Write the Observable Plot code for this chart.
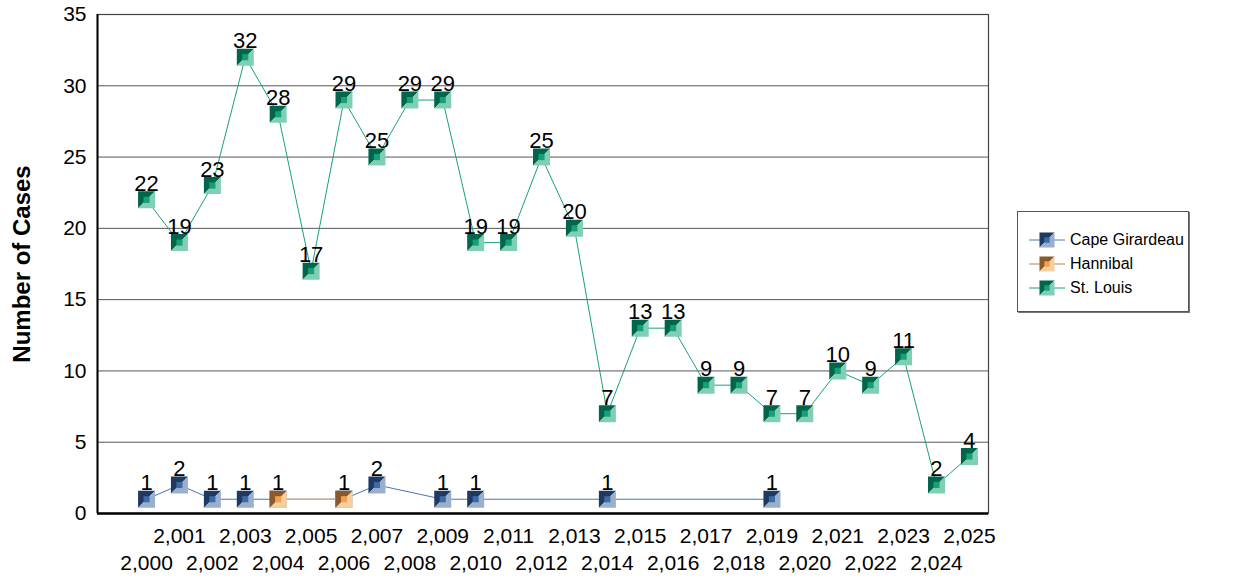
<!DOCTYPE html>
<html><head><meta charset="utf-8">
<script src="https://cdn.jsdelivr.net/npm/d3@7"></script>
<script src="https://cdn.jsdelivr.net/npm/@observablehq/plot@0.6"></script>
<style>
body{margin:0;background:#fff;font-family:"Liberation Sans",Arial,sans-serif;}
#wrap{position:relative;width:1241px;height:579px;}
#legend{position:absolute;left:1017px;top:211px;width:172px;height:101px;box-sizing:border-box;border:1px solid #555;box-shadow:1px 1px 0 #777;background:#fff;padding-top:16px;}
.row{display:flex;align-items:center;height:24px;padding-left:10px;font-size:16px;color:#000;}
.row svg{margin-right:4px;}
</style></head>
<body><div id="wrap"></div>
<script>
const years = [2000,2001,2002,2003,2004,2005,2006,2007,2008,2009,2010,2011,2012,2013,2014,2015,2016,2017,2018,2019,2020,2021,2022,2023,2024,2025];
const stLouisCases = [22,19,23,32,28,17,29,25,29,29,19,19,25,20,7,13,13,9,9,7,7,10,9,11,2,4];
const capeYears = [2000,2001,2002,2003,2004,2006,2007,2009,2010,2014,2019];
const capeCases = [1,2,1,1,1,1,2,1,1,1,1];
const hannibalYears = [2004,2006];
const hannibalCases = [1,1];
const yTicks = [0,5,10,15,20,25,30,35];
const seriesNames = ["Cape Girardeau","Hannibal","St. Louis"];

const styles = {
  "Cape Girardeau": {line:"#4f76ab", dark:"#1f3a62", light:"#9aafcc", mid:"#3d6ba8", lw:1},
  "Hannibal": {line:"#d8ab7c", dark:"#8a5a2c", light:"#f7cf9f", mid:"#f2a04a", lw:1.5},
  "St. Louis": {line:"#17a07e", dark:"#00654a", light:"#80cfb5", mid:"#15a07a", lw:1}
};

const series = {
  "Cape Girardeau": capeYears.map((y,i)=>({year:y, cases:capeCases[i]})),
  "Hannibal": hannibalYears.map((y,i)=>({year:y, cases:hannibalCases[i]})),
  "St. Louis": years.map((y,i)=>({year:y, cases:stLouisCases[i]}))
};

const half = size => Math.sqrt(size/Math.PI);
const triA = {draw(c,s){const h=half(s);c.moveTo(-h,-h);c.lineTo(h,-h);c.lineTo(-h,h);c.closePath();}};
const triB = {draw(c,s){const h=half(s);c.moveTo(h,-h);c.lineTo(h,h);c.lineTo(-h,h);c.closePath();}};
const inner = {draw(c,s){const h=half(s)*0.36;c.moveTo(-h,-h);c.lineTo(h,-h);c.lineTo(h,h);c.lineTo(-h,h);c.closePath();}};

const xDomain = [years[0]-1.49, years[years.length-1]+0.58];
const R = 8.5;

const marks = [
  Plot.gridY({ticks: yTicks, stroke:"#555", strokeOpacity:1}),
  Plot.frame({stroke:"#444", strokeWidth:1.2}),
  Plot.ruleY([0], {stroke:"#000", strokeWidth:2.5}),
  Plot.ruleX([xDomain[0]], {stroke:"#000", strokeWidth:2}),
  Plot.axisY({ticks: yTicks, tickSize:0, tickPadding:11, fontSize:21, label:null}),
  Plot.axisX({ticks: years.filter(y=>y%2===1), tickSize:0, tickPadding:15, tickFormat:",", fontSize:21, label:null}),
  Plot.axisX({ticks: years.filter(y=>y%2===0), tickSize:0, tickPadding:42, tickFormat:",", fontSize:21, label:null}),
  Plot.text(["Number of Cases"], {frameAnchor:"left", dx:-75, rotate:-90, textAnchor:"middle", fontSize:24, fontWeight:"bold", fill:"#000"})
];
for (const name of seriesNames) {
  const st = styles[name], d = series[name];
  marks.push(
    Plot.line(d, {x:"year", y:"cases", stroke:st.line, strokeWidth:st.lw}),
    Plot.dot(d, {x:"year", y:"cases", r:R, symbol:triA, fill:st.dark}),
    Plot.dot(d, {x:"year", y:"cases", r:R, symbol:triB, fill:st.light}),
    Plot.dot(d, {x:"year", y:"cases", r:R, symbol:inner, fill:st.mid})
  );
}
for (const name of seriesNames) {
  // Cape Girardeau points hidden under Hannibal markers share the same label spot; draw it once
  const d = name === "Cape Girardeau" ? series[name].filter(p => !hannibalYears.includes(p.year)) : series[name];
  marks.push(Plot.text(d, {x:"year", y:"cases", text:p=>String(p.cases), dy:-16, fontSize:22, fill:"#000"}));
}

const chart = Plot.plot({
  width:1241, height:579,
  marginLeft:97, marginRight:253, marginTop:14, marginBottom:66,
  style:{fontFamily:'"Liberation Sans", Arial, sans-serif', background:"#fff", color:"#000"},
  x:{type:"linear", domain:xDomain},
  y:{domain:[0,35]},
  marks
});
const wrap = document.getElementById("wrap");
wrap.appendChild(chart);

const legend = document.createElement("div");
legend.id = "legend";
for (const name of seriesNames) {
  const st = styles[name];
  const row = document.createElement("div");
  row.className = "row";
  const h = 7.5;
  row.innerHTML = `<svg width="38" height="18" viewBox="-19 -9 38 18">
    <line x1="-18" x2="18" y1="0" y2="0" stroke="${st.line}" stroke-width="${st.lw}"/>
    <path d="M${-h},${-h}L${h},${-h}L${-h},${h}Z" fill="${st.dark}"/>
    <path d="M${h},${-h}L${h},${h}L${-h},${h}Z" fill="${st.light}"/>
    <rect x="${-h*0.36}" y="${-h*0.36}" width="${h*0.72}" height="${h*0.72}" fill="${st.mid}"/>
  </svg><span>${name}</span>`;
  legend.appendChild(row);
}
wrap.appendChild(legend);
</script>
</body></html>
